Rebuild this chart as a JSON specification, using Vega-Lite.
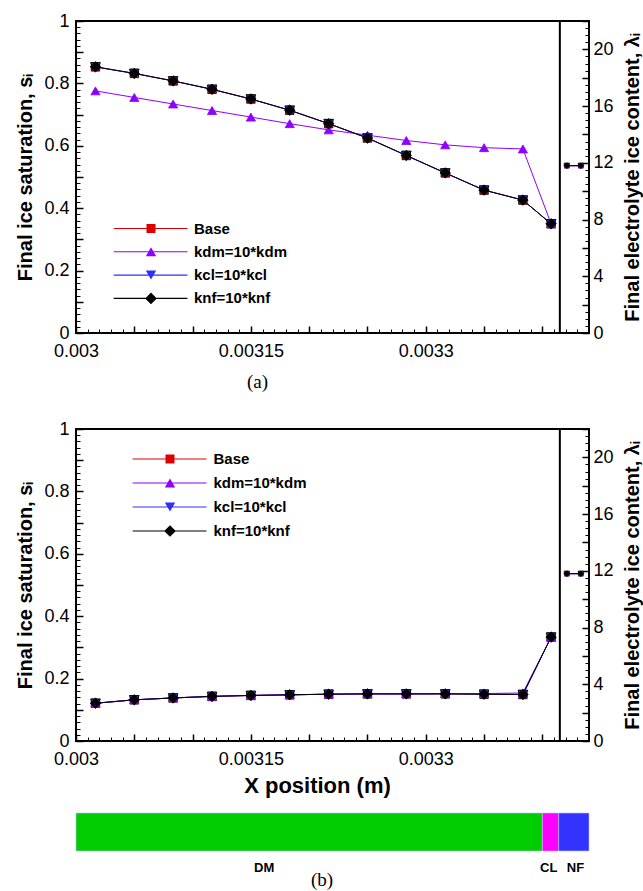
{
  "$schema": "https://vega.github.io/schema/vega-lite/v6.json",
  "background": "white",
  "padding": {"left": 14, "top": 11, "right": 0, "bottom": 0},
  "spacing": 15,
  "config": {
    "font": "Liberation Sans",
    "view": {"stroke": "#000", "strokeWidth": 2},
    "axis": {"grid": false, "domain": false, "labelFont": "Liberation Sans", "labelFontSize": 18, "labelColor": "#000", "tickColor": "#000", "titleFont": "Liberation Sans", "titleFontSize": 20, "titleFontWeight": "bold", "titleColor": "#000", "labelFlush": false, "labelOverlap": false, "tickSize": -7, "tickWidth": 1.5},
    "legend": {"symbolOpacity": 1}
  },
  "datasets": {
    "a_s": [
      {"series": "Base", "x": 0.0030167, "s": 0.853}, {"series": "Base", "x": 0.00305, "s": 0.832}, {"series": "Base", "x": 0.0030833, "s": 0.808}, {"series": "Base", "x": 0.0031167, "s": 0.781}, {"series": "Base", "x": 0.00315, "s": 0.75}, {"series": "Base", "x": 0.0031833, "s": 0.714}, {"series": "Base", "x": 0.0032167, "s": 0.671}, {"series": "Base", "x": 0.00325, "s": 0.625}, {"series": "Base", "x": 0.0032833, "s": 0.569}, {"series": "Base", "x": 0.0033167, "s": 0.513}, {"series": "Base", "x": 0.00335, "s": 0.458}, {"series": "Base", "x": 0.0033833, "s": 0.426}, {"series": "Base", "x": 0.0034075, "s": 0.35},
      {"series": "kdm=10*kdm", "x": 0.0030167, "s": 0.776}, {"series": "kdm=10*kdm", "x": 0.00305, "s": 0.755}, {"series": "kdm=10*kdm", "x": 0.0030833, "s": 0.734}, {"series": "kdm=10*kdm", "x": 0.0031167, "s": 0.713}, {"series": "kdm=10*kdm", "x": 0.00315, "s": 0.692}, {"series": "kdm=10*kdm", "x": 0.0031833, "s": 0.671}, {"series": "kdm=10*kdm", "x": 0.0032167, "s": 0.651}, {"series": "kdm=10*kdm", "x": 0.00325, "s": 0.634}, {"series": "kdm=10*kdm", "x": 0.0032833, "s": 0.617}, {"series": "kdm=10*kdm", "x": 0.0033167, "s": 0.603}, {"series": "kdm=10*kdm", "x": 0.00335, "s": 0.594}, {"series": "kdm=10*kdm", "x": 0.0033833, "s": 0.59}, {"series": "kdm=10*kdm", "x": 0.0034075, "s": 0.35},
      {"series": "kcl=10*kcl", "x": 0.0030167, "s": 0.853}, {"series": "kcl=10*kcl", "x": 0.00305, "s": 0.832}, {"series": "kcl=10*kcl", "x": 0.0030833, "s": 0.808}, {"series": "kcl=10*kcl", "x": 0.0031167, "s": 0.781}, {"series": "kcl=10*kcl", "x": 0.00315, "s": 0.75}, {"series": "kcl=10*kcl", "x": 0.0031833, "s": 0.714}, {"series": "kcl=10*kcl", "x": 0.0032167, "s": 0.671}, {"series": "kcl=10*kcl", "x": 0.00325, "s": 0.625}, {"series": "kcl=10*kcl", "x": 0.0032833, "s": 0.569}, {"series": "kcl=10*kcl", "x": 0.0033167, "s": 0.513}, {"series": "kcl=10*kcl", "x": 0.00335, "s": 0.458}, {"series": "kcl=10*kcl", "x": 0.0033833, "s": 0.426}, {"series": "kcl=10*kcl", "x": 0.0034075, "s": 0.35},
      {"series": "knf=10*knf", "x": 0.0030167, "s": 0.853}, {"series": "knf=10*knf", "x": 0.00305, "s": 0.832}, {"series": "knf=10*knf", "x": 0.0030833, "s": 0.808}, {"series": "knf=10*knf", "x": 0.0031167, "s": 0.781}, {"series": "knf=10*knf", "x": 0.00315, "s": 0.75}, {"series": "knf=10*knf", "x": 0.0031833, "s": 0.714}, {"series": "knf=10*knf", "x": 0.0032167, "s": 0.671}, {"series": "knf=10*knf", "x": 0.00325, "s": 0.625}, {"series": "knf=10*knf", "x": 0.0032833, "s": 0.569}, {"series": "knf=10*knf", "x": 0.0033167, "s": 0.513}, {"series": "knf=10*knf", "x": 0.00335, "s": 0.458}, {"series": "knf=10*knf", "x": 0.0033833, "s": 0.426}, {"series": "knf=10*knf", "x": 0.0034075, "s": 0.35}
    ],
    "a_lam": [
      {"series": "Base", "x": 0.003421, "lam": 11.8}, {"series": "Base", "x": 0.003433, "lam": 11.8},
      {"series": "kdm=10*kdm", "x": 0.003421, "lam": 11.8}, {"series": "kdm=10*kdm", "x": 0.003433, "lam": 11.8},
      {"series": "kcl=10*kcl", "x": 0.003421, "lam": 11.8}, {"series": "kcl=10*kcl", "x": 0.003433, "lam": 11.8},
      {"series": "knf=10*knf", "x": 0.003421, "lam": 11.8}, {"series": "knf=10*knf", "x": 0.003433, "lam": 11.8}
    ],
    "b_s": [
      {"series": "Base", "x": 0.0030167, "s": 0.121}, {"series": "Base", "x": 0.00305, "s": 0.132}, {"series": "Base", "x": 0.0030833, "s": 0.138}, {"series": "Base", "x": 0.0031167, "s": 0.143}, {"series": "Base", "x": 0.00315, "s": 0.146}, {"series": "Base", "x": 0.0031833, "s": 0.148}, {"series": "Base", "x": 0.0032167, "s": 0.15}, {"series": "Base", "x": 0.00325, "s": 0.151}, {"series": "Base", "x": 0.0032833, "s": 0.151}, {"series": "Base", "x": 0.0033167, "s": 0.151}, {"series": "Base", "x": 0.00335, "s": 0.15}, {"series": "Base", "x": 0.0033833, "s": 0.149}, {"series": "Base", "x": 0.0034075, "s": 0.333},
      {"series": "kdm=10*kdm", "x": 0.0030167, "s": 0.121}, {"series": "kdm=10*kdm", "x": 0.00305, "s": 0.132}, {"series": "kdm=10*kdm", "x": 0.0030833, "s": 0.138}, {"series": "kdm=10*kdm", "x": 0.0031167, "s": 0.143}, {"series": "kdm=10*kdm", "x": 0.00315, "s": 0.146}, {"series": "kdm=10*kdm", "x": 0.0031833, "s": 0.148}, {"series": "kdm=10*kdm", "x": 0.0032167, "s": 0.15}, {"series": "kdm=10*kdm", "x": 0.00325, "s": 0.151}, {"series": "kdm=10*kdm", "x": 0.0032833, "s": 0.151}, {"series": "kdm=10*kdm", "x": 0.0033167, "s": 0.152}, {"series": "kdm=10*kdm", "x": 0.00335, "s": 0.152}, {"series": "kdm=10*kdm", "x": 0.0033833, "s": 0.154}, {"series": "kdm=10*kdm", "x": 0.0034075, "s": 0.333},
      {"series": "kcl=10*kcl", "x": 0.0030167, "s": 0.121}, {"series": "kcl=10*kcl", "x": 0.00305, "s": 0.132}, {"series": "kcl=10*kcl", "x": 0.0030833, "s": 0.138}, {"series": "kcl=10*kcl", "x": 0.0031167, "s": 0.143}, {"series": "kcl=10*kcl", "x": 0.00315, "s": 0.146}, {"series": "kcl=10*kcl", "x": 0.0031833, "s": 0.148}, {"series": "kcl=10*kcl", "x": 0.0032167, "s": 0.15}, {"series": "kcl=10*kcl", "x": 0.00325, "s": 0.151}, {"series": "kcl=10*kcl", "x": 0.0032833, "s": 0.151}, {"series": "kcl=10*kcl", "x": 0.0033167, "s": 0.151}, {"series": "kcl=10*kcl", "x": 0.00335, "s": 0.15}, {"series": "kcl=10*kcl", "x": 0.0033833, "s": 0.149}, {"series": "kcl=10*kcl", "x": 0.0034075, "s": 0.333},
      {"series": "knf=10*knf", "x": 0.0030167, "s": 0.121}, {"series": "knf=10*knf", "x": 0.00305, "s": 0.132}, {"series": "knf=10*knf", "x": 0.0030833, "s": 0.138}, {"series": "knf=10*knf", "x": 0.0031167, "s": 0.143}, {"series": "knf=10*knf", "x": 0.00315, "s": 0.146}, {"series": "knf=10*knf", "x": 0.0031833, "s": 0.148}, {"series": "knf=10*knf", "x": 0.0032167, "s": 0.15}, {"series": "knf=10*knf", "x": 0.00325, "s": 0.151}, {"series": "knf=10*knf", "x": 0.0032833, "s": 0.151}, {"series": "knf=10*knf", "x": 0.0033167, "s": 0.151}, {"series": "knf=10*knf", "x": 0.00335, "s": 0.15}, {"series": "knf=10*knf", "x": 0.0033833, "s": 0.149}, {"series": "knf=10*knf", "x": 0.0034075, "s": 0.333}
    ],
    "b_lam": [
      {"series": "Base", "x": 0.003421, "lam": 11.8}, {"series": "Base", "x": 0.003433, "lam": 11.8},
      {"series": "kdm=10*kdm", "x": 0.003421, "lam": 11.8}, {"series": "kdm=10*kdm", "x": 0.003433, "lam": 11.8},
      {"series": "kcl=10*kcl", "x": 0.003421, "lam": 11.8}, {"series": "kcl=10*kcl", "x": 0.003433, "lam": 11.8},
      {"series": "knf=10*knf", "x": 0.003421, "lam": 11.8}, {"series": "knf=10*knf", "x": 0.003433, "lam": 11.8}
    ],
    "boundary": [{"name": "CL/NF", "x": 0.003415}],
    "regions": [
      {"region": "DM", "x0": 0.003, "x1": 0.0034},
      {"region": "CL", "x0": 0.0034, "x1": 0.003414},
      {"region": "NF", "x0": 0.003414, "x1": 0.00344}
    ]
  },
  "vconcat": [
    {
      "width": 513, "height": 312,
      "title": {"text": "(a)", "orient": "bottom", "anchor": "middle", "frame": "group", "font": "Liberation Serif", "fontSize": 19, "fontWeight": "normal", "color": "#000", "offset": 12.5, "dx": -75, "subtitle": " ", "subtitleFontSize": 12, "subtitlePadding": 0},
      "resolve": {"scale": {"y": "independent", "color": "independent", "shape": "independent", "size": "independent", "stroke": "independent"}, "axis": {"x": "independent", "y": "independent"}},
      "layer": [
        {"data": {"name": "a_s"}, "mark": {"type": "point", "opacity": 0},
         "encoding": {
           "x": {"field": "x", "type": "quantitative", "scale": {"domain": [0.003, 0.00344], "nice": false, "zero": false}, "axis": {"orient": "bottom", "tickCount": 44, "labels": false, "tickSize": -4, "tickWidth": 1, "title": null}},
           "y": {"field": "s", "type": "quantitative", "scale": {"domain": [0, 1], "nice": false, "zero": false}, "axis": {"orient": "left", "tickCount": 50, "labels": false, "tickSize": -4, "tickWidth": 1, "title": null}}}},
        {"data": {"name": "a_lam"}, "mark": {"type": "point", "opacity": 0},
         "encoding": {
           "x": {"field": "x", "type": "quantitative", "scale": {"domain": [0.003, 0.00344], "nice": false, "zero": false}, "axis": null},
           "y": {"field": "lam", "type": "quantitative", "scale": {"domain": [0, 22], "nice": false, "zero": false}, "axis": {"orient": "right", "tickCount": 44, "labels": false, "tickSize": -4, "tickWidth": 1, "title": null}}}},
        {"data": {"name": "a_s"}, "mark": {"type": "line", "strokeWidth": 1},
         "encoding": {
           "x": {"field": "x", "type": "quantitative", "scale": {"domain": [0.003, 0.00344], "nice": false, "zero": false}, "axis": {"orient": "bottom", "values": [0.003, 0.00305, 0.0031, 0.00315, 0.0032, 0.00325, 0.0033, 0.00335, 0.0034], "labelExpr": "abs(datum.value-0.003)<1e-7 || abs(datum.value-0.00315)<1e-7 || abs(datum.value-0.0033)<1e-7 ? format(datum.value, '~g') : ''", "labelPadding": 16.5, "title": null}},
           "y": {"field": "s", "type": "quantitative", "scale": {"domain": [0, 1], "nice": false, "zero": false}, "axis": {"orient": "left", "values": [0, 0.1, 0.2, 0.3, 0.4, 0.5, 0.6, 0.7, 0.8, 0.9, 1], "labelExpr": "round(datum.value*10) % 2 == 0 ? format(datum.value, '~g') : ''", "labelPadding": 14, "title": "Final ice saturation, sᵢ", "titlePadding": 8}},
           "color": {"field": "series", "type": "nominal", "scale": {"domain": ["Base", "kdm=10*kdm", "kcl=10*kcl", "knf=10*knf"], "range": ["#dd0000", "#8f00ff", "#2e2eff", "#000000"]}, "legend": null}}},
        {"data": {"name": "a_s"}, "mark": {"type": "point", "filled": true, "opacity": 1, "strokeWidth": 0.8},
         "encoding": {
           "x": {"field": "x", "type": "quantitative", "scale": {"domain": [0.003, 0.00344], "nice": false, "zero": false}, "axis": null},
           "y": {"field": "s", "type": "quantitative", "scale": {"domain": [0, 1], "nice": false, "zero": false}, "axis": null},
           "color": {"field": "series", "type": "nominal", "scale": {"domain": ["Base", "kdm=10*kdm", "kcl=10*kcl", "knf=10*knf"], "range": ["#dd0000", "#8f00ff", "#2e2eff", "#000000"]}, "legend": null},
           "shape": {"field": "series", "type": "nominal", "scale": {"domain": ["Base", "kdm=10*kdm", "kcl=10*kcl", "knf=10*knf"], "range": ["square", "triangle-up", "triangle-down", "diamond"]}, "legend": null},
           "size": {"field": "series", "type": "nominal", "scale": {"domain": ["Base", "kdm=10*kdm", "kcl=10*kcl", "knf=10*knf"], "range": [72, 110, 90, 144]}, "legend": null},
           "stroke": {"field": "series", "type": "nominal", "scale": {"domain": ["Base", "kdm=10*kdm", "kcl=10*kcl", "knf=10*knf"], "range": ["#000000", "#8f00ff", "#000000", "#000000"]}, "legend": null}}},
        {"data": {"name": "a_lam"}, "mark": {"type": "line", "strokeWidth": 1},
         "encoding": {
           "x": {"field": "x", "type": "quantitative", "scale": {"domain": [0.003, 0.00344], "nice": false, "zero": false}, "axis": null},
           "y": {"field": "lam", "type": "quantitative", "scale": {"domain": [0, 22], "nice": false, "zero": false}, "axis": {"orient": "right", "values": [0, 2, 4, 6, 8, 10, 12, 14, 16, 18, 20, 22], "labelExpr": "datum.value % 4 == 0 && datum.value <= 20 ? format(datum.value, 'd') : ''", "labelPadding": 11, "title": "Final electrolyte ice content, λᵢ", "titleAngle": 270, "titleBaseline": "top", "titlePadding": 9}},
           "color": {"field": "series", "type": "nominal", "scale": {"domain": ["Base", "kdm=10*kdm", "kcl=10*kcl", "knf=10*knf"], "range": ["#dd0000", "#8f00ff", "#2e2eff", "#000000"]}, "legend": null}}},
        {"data": {"name": "a_lam"}, "mark": {"type": "point", "filled": true, "opacity": 1, "strokeWidth": 0.6},
         "encoding": {
           "x": {"field": "x", "type": "quantitative", "scale": {"domain": [0.003, 0.00344], "nice": false, "zero": false}, "axis": null},
           "y": {"field": "lam", "type": "quantitative", "scale": {"domain": [0, 22], "nice": false, "zero": false}, "axis": null},
           "color": {"field": "series", "type": "nominal", "scale": {"domain": ["Base", "kdm=10*kdm", "kcl=10*kcl", "knf=10*knf"], "range": ["#dd0000", "#8f00ff", "#2e2eff", "#000000"]}, "legend": null},
           "shape": {"field": "series", "type": "nominal", "scale": {"domain": ["Base", "kdm=10*kdm", "kcl=10*kcl", "knf=10*knf"], "range": ["square", "triangle-up", "triangle-down", "diamond"]}, "legend": null},
           "size": {"field": "series", "type": "nominal", "scale": {"domain": ["Base", "kdm=10*kdm", "kcl=10*kcl", "knf=10*knf"], "range": [24, 36, 30, 48]}, "legend": null},
           "stroke": {"field": "series", "type": "nominal", "scale": {"domain": ["Base", "kdm=10*kdm", "kcl=10*kcl", "knf=10*knf"], "range": ["#000000", "#8f00ff", "#000000", "#000000"]}, "legend": null}}},
        {"data": {"name": "boundary"}, "mark": {"type": "rule", "strokeWidth": 2, "color": "#000"},
         "encoding": {"x": {"field": "x", "type": "quantitative", "scale": {"domain": [0.003, 0.00344], "nice": false, "zero": false}, "axis": null}}},
        {"data": {"name": "a_s"}, "mark": {"type": "point", "filled": true, "opacity": 0},
         "encoding": {
           "x": {"field": "x", "type": "quantitative", "scale": {"domain": [0.003, 0.00344], "nice": false, "zero": false}, "axis": null},
           "y": {"field": "s", "type": "quantitative", "scale": {"domain": [0, 1], "nice": false, "zero": false}, "axis": null},
           "color": {"field": "series", "type": "nominal", "scale": {"domain": ["Base", "kdm=10*kdm", "kcl=10*kcl", "knf=10*knf"], "range": ["#dd0000", "#8f00ff", "#2e2eff", "#000000"]},
             "legend": {"orient": "none", "legendX": 67.5, "legendY": 200, "title": null, "padding": 0, "symbolSize": 81, "symbolStrokeWidth": 0, "symbolOpacity": 1, "labelOffset": 35.5, "rowPadding": 7.3, "labelFont": "Liberation Sans", "labelFontSize": 15, "labelFontWeight": "bold", "labelColor": "#000"}},
           "shape": {"field": "series", "type": "nominal", "scale": {"domain": ["Base", "kdm=10*kdm", "kcl=10*kcl", "knf=10*knf"], "range": ["M-8.3,-0.12H8.1V0.12H-8.3Z M-1,-1H1V1H-1Z", "M-8.3,-0.12H8.1V0.12H-8.3Z M0,-1L1.15,1L-1.15,1Z", "M-8.3,-0.12H8.1V0.12H-8.3Z M0,1L-1.15,-1L1.15,-1Z", "M-8.3,-0.12H8.1V0.12H-8.3Z M0,-1.3L1.3,0L0,1.3L-1.3,0Z"]},
             "legend": {"orient": "none", "legendX": 67.5, "legendY": 200, "title": null, "padding": 0, "symbolSize": 81, "symbolStrokeWidth": 0, "symbolOpacity": 1, "labelOffset": 35.5, "rowPadding": 7.3, "labelFont": "Liberation Sans", "labelFontSize": 15, "labelFontWeight": "bold", "labelColor": "#000"}}}}
      ]
    },
    {
      "width": 513, "height": 312,
      "resolve": {"scale": {"y": "independent", "color": "independent", "shape": "independent", "size": "independent", "stroke": "independent"}, "axis": {"x": "independent", "y": "independent"}},
      "layer": [
        {"data": {"name": "b_s"}, "mark": {"type": "point", "opacity": 0},
         "encoding": {
           "x": {"field": "x", "type": "quantitative", "scale": {"domain": [0.003, 0.00344], "nice": false, "zero": false}, "axis": {"orient": "bottom", "tickCount": 44, "labels": false, "tickSize": -4, "tickWidth": 1, "title": null}},
           "y": {"field": "s", "type": "quantitative", "scale": {"domain": [0, 1], "nice": false, "zero": false}, "axis": {"orient": "left", "tickCount": 50, "labels": false, "tickSize": -4, "tickWidth": 1, "title": null}}}},
        {"data": {"name": "b_lam"}, "mark": {"type": "point", "opacity": 0},
         "encoding": {
           "x": {"field": "x", "type": "quantitative", "scale": {"domain": [0.003, 0.00344], "nice": false, "zero": false}, "axis": null},
           "y": {"field": "lam", "type": "quantitative", "scale": {"domain": [0, 22], "nice": false, "zero": false}, "axis": {"orient": "right", "tickCount": 44, "labels": false, "tickSize": -4, "tickWidth": 1, "title": null}}}},
        {"data": {"name": "b_s"}, "mark": {"type": "line", "strokeWidth": 1},
         "encoding": {
           "x": {"field": "x", "type": "quantitative", "scale": {"domain": [0.003, 0.00344], "nice": false, "zero": false}, "axis": {"orient": "bottom", "values": [0.003, 0.00305, 0.0031, 0.00315, 0.0032, 0.00325, 0.0033, 0.00335, 0.0034], "labelExpr": "abs(datum.value-0.003)<1e-7 || abs(datum.value-0.00315)<1e-7 || abs(datum.value-0.0033)<1e-7 ? format(datum.value, '~g') : ''", "labelPadding": 16.5, "title": "X position (m)", "titleFontSize": 22, "titlePadding": 6.5, "titleX": 241}},
           "y": {"field": "s", "type": "quantitative", "scale": {"domain": [0, 1], "nice": false, "zero": false}, "axis": {"orient": "left", "values": [0, 0.1, 0.2, 0.3, 0.4, 0.5, 0.6, 0.7, 0.8, 0.9, 1], "labelExpr": "round(datum.value*10) % 2 == 0 ? format(datum.value, '~g') : ''", "labelPadding": 14, "title": "Final ice saturation, sᵢ", "titlePadding": 8}},
           "color": {"field": "series", "type": "nominal", "scale": {"domain": ["Base", "kdm=10*kdm", "kcl=10*kcl", "knf=10*knf"], "range": ["#dd0000", "#8f00ff", "#2e2eff", "#000000"]}, "legend": null}}},
        {"data": {"name": "b_s"}, "mark": {"type": "point", "filled": true, "opacity": 1, "strokeWidth": 0.8},
         "encoding": {
           "x": {"field": "x", "type": "quantitative", "scale": {"domain": [0.003, 0.00344], "nice": false, "zero": false}, "axis": null},
           "y": {"field": "s", "type": "quantitative", "scale": {"domain": [0, 1], "nice": false, "zero": false}, "axis": null},
           "color": {"field": "series", "type": "nominal", "scale": {"domain": ["Base", "kdm=10*kdm", "kcl=10*kcl", "knf=10*knf"], "range": ["#dd0000", "#8f00ff", "#2e2eff", "#000000"]}, "legend": null},
           "shape": {"field": "series", "type": "nominal", "scale": {"domain": ["Base", "kdm=10*kdm", "kcl=10*kcl", "knf=10*knf"], "range": ["square", "triangle-up", "triangle-down", "diamond"]}, "legend": null},
           "size": {"field": "series", "type": "nominal", "scale": {"domain": ["Base", "kdm=10*kdm", "kcl=10*kcl", "knf=10*knf"], "range": [72, 110, 90, 144]}, "legend": null},
           "stroke": {"field": "series", "type": "nominal", "scale": {"domain": ["Base", "kdm=10*kdm", "kcl=10*kcl", "knf=10*knf"], "range": ["#000000", "#8f00ff", "#000000", "#000000"]}, "legend": null}}},
        {"data": {"name": "b_lam"}, "mark": {"type": "line", "strokeWidth": 1},
         "encoding": {
           "x": {"field": "x", "type": "quantitative", "scale": {"domain": [0.003, 0.00344], "nice": false, "zero": false}, "axis": null},
           "y": {"field": "lam", "type": "quantitative", "scale": {"domain": [0, 22], "nice": false, "zero": false}, "axis": {"orient": "right", "values": [0, 2, 4, 6, 8, 10, 12, 14, 16, 18, 20, 22], "labelExpr": "datum.value % 4 == 0 && datum.value <= 20 ? format(datum.value, 'd') : ''", "labelPadding": 11, "title": "Final electrolyte ice content, λᵢ", "titleAngle": 270, "titleBaseline": "top", "titlePadding": 9}},
           "color": {"field": "series", "type": "nominal", "scale": {"domain": ["Base", "kdm=10*kdm", "kcl=10*kcl", "knf=10*knf"], "range": ["#dd0000", "#8f00ff", "#2e2eff", "#000000"]}, "legend": null}}},
        {"data": {"name": "b_lam"}, "mark": {"type": "point", "filled": true, "opacity": 1, "strokeWidth": 0.6},
         "encoding": {
           "x": {"field": "x", "type": "quantitative", "scale": {"domain": [0.003, 0.00344], "nice": false, "zero": false}, "axis": null},
           "y": {"field": "lam", "type": "quantitative", "scale": {"domain": [0, 22], "nice": false, "zero": false}, "axis": null},
           "color": {"field": "series", "type": "nominal", "scale": {"domain": ["Base", "kdm=10*kdm", "kcl=10*kcl", "knf=10*knf"], "range": ["#dd0000", "#8f00ff", "#2e2eff", "#000000"]}, "legend": null},
           "shape": {"field": "series", "type": "nominal", "scale": {"domain": ["Base", "kdm=10*kdm", "kcl=10*kcl", "knf=10*knf"], "range": ["square", "triangle-up", "triangle-down", "diamond"]}, "legend": null},
           "size": {"field": "series", "type": "nominal", "scale": {"domain": ["Base", "kdm=10*kdm", "kcl=10*kcl", "knf=10*knf"], "range": [24, 36, 30, 48]}, "legend": null},
           "stroke": {"field": "series", "type": "nominal", "scale": {"domain": ["Base", "kdm=10*kdm", "kcl=10*kcl", "knf=10*knf"], "range": ["#000000", "#8f00ff", "#000000", "#000000"]}, "legend": null}}},
        {"data": {"name": "boundary"}, "mark": {"type": "rule", "strokeWidth": 2, "color": "#000"},
         "encoding": {"x": {"field": "x", "type": "quantitative", "scale": {"domain": [0.003, 0.00344], "nice": false, "zero": false}, "axis": null}}},
        {"data": {"name": "b_s"}, "mark": {"type": "point", "filled": true, "opacity": 0},
         "encoding": {
           "x": {"field": "x", "type": "quantitative", "scale": {"domain": [0.003, 0.00344], "nice": false, "zero": false}, "axis": null},
           "y": {"field": "s", "type": "quantitative", "scale": {"domain": [0, 1], "nice": false, "zero": false}, "axis": null},
           "color": {"field": "series", "type": "nominal", "scale": {"domain": ["Base", "kdm=10*kdm", "kcl=10*kcl", "knf=10*knf"], "range": ["#dd0000", "#8f00ff", "#2e2eff", "#000000"]},
             "legend": {"orient": "none", "legendX": 86.5, "legendY": 22.5, "title": null, "padding": 0, "symbolSize": 81, "symbolStrokeWidth": 0, "symbolOpacity": 1, "labelOffset": 36, "rowPadding": 8, "labelFont": "Liberation Sans", "labelFontSize": 15, "labelFontWeight": "bold", "labelColor": "#000"}},
           "shape": {"field": "series", "type": "nominal", "scale": {"domain": ["Base", "kdm=10*kdm", "kcl=10*kcl", "knf=10*knf"], "range": ["M-8.3,-0.12H8.1V0.12H-8.3Z M-1,-1H1V1H-1Z", "M-8.3,-0.12H8.1V0.12H-8.3Z M0,-1L1.15,1L-1.15,1Z", "M-8.3,-0.12H8.1V0.12H-8.3Z M0,1L-1.15,-1L1.15,-1Z", "M-8.3,-0.12H8.1V0.12H-8.3Z M0,-1.3L1.3,0L0,1.3L-1.3,0Z"]},
             "legend": {"orient": "none", "legendX": 86.5, "legendY": 22.5, "title": null, "padding": 0, "symbolSize": 81, "symbolStrokeWidth": 0, "symbolOpacity": 1, "labelOffset": 36, "rowPadding": 8, "labelFont": "Liberation Sans", "labelFontSize": 15, "labelFontWeight": "bold", "labelColor": "#000"}}}}
      ]
    },
    {
      "width": 513, "height": 38,
      "view": {"stroke": null},
      "title": {"text": "(b)", "orient": "bottom", "anchor": "middle", "frame": "group", "font": "Liberation Serif", "fontSize": 19, "fontWeight": "normal", "color": "#000", "offset": -3, "dx": -10.5},
      "data": {"name": "regions"},
      "mark": {"type": "rect", "stroke": "#b8c4ff", "strokeWidth": 0.6},
      "encoding": {
        "x": {"field": "x0", "type": "quantitative", "scale": {"domain": [0.003, 0.00344], "nice": false, "zero": false},
          "axis": {"orient": "bottom", "values": [0.003161, 0.003405, 0.003428], "labelExpr": "datum.value < 0.0033 ? 'DM' : (datum.value < 0.003415 ? 'CL' : 'NF')", "ticks": false, "domain": false, "labelFontSize": 13, "labelFontWeight": "bold", "labelPadding": 10, "title": null}},
        "x2": {"field": "x1"},
        "color": {"field": "region", "type": "nominal", "scale": {"domain": ["DM", "CL", "NF"], "range": ["#00cc00", "#ff00ff", "#3333ff"]}, "legend": null}
      }
    }
  ]
}
